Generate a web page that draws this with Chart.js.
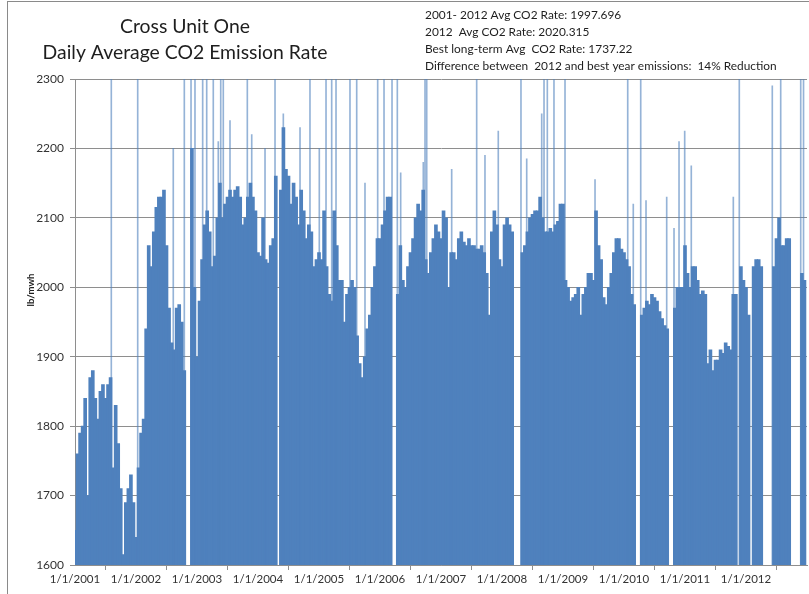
<!DOCTYPE html>
<html>
<head>
<meta charset="utf-8">
<script src="https://cdn.jsdelivr.net/npm/chart.js@4"></script>
<style>
  html, body { margin: 0; padding: 0; background: #ffffff; }
  #wrap { width: 809px; height: 594px; }
</style>
</head>
<body>
<div id="wrap"><canvas id="myChart" width="809" height="594"></canvas></div>
<script>
// half-month readings (1st and 16th of each month), lb/mwh; null = unit offline
const rate2001 = [1650, 1760, 1790, 1800, 1840, 1700, 1870, 1880, 1840, 1810, 1850, 1860, 1840, 1860, 1870, 1740, 1830, 1775, 1710, 1615, 1690, 1710, 1730, 1690];
const rate2002 = [1640, 1740, 1790, 1810, 1940, 2060, 2030, 2080, 2115, 2130, 2130, 2140, 2060, 1970, 1920, 1910, 1970, 1975, 1950, 1880, null, null, 2200, 2000];
const rate2003 = [1900, 1980, 2040, 2090, 2110, 2080, 2030, 2045, 2100, 2150, 2100, 2120, 2130, 2140, 2130, 2140, 2145, 2130, 2090, 2100, 2130, 2150, 2130, 2110];
const rate2004 = [2050, 2045, 2100, 2040, 2035, 2060, 2070, 2160, null, 2140, 2230, 2170, 2160, 2120, 2150, 2130, 2090, 2140, 2110, 2070, 2090, 2080, 2030, 2040];
const rate2005 = [2050, 2040, 2110, 2030, 1990, 1980, 2110, 2060, 2010, 2010, 1950, 1990, 2000, 2010, 2000, 1930, 1890, 1870, 1900, 1940, 1960, 2000, 2030, 2070];
const rate2006 = [2070, 2090, 2110, 2130, 2130, null, null, 1990, 2060, 2010, 2000, 2030, 2050, 2070, 2100, 2120, 2110, 2140, 2040, 2020, 2050, 2070, 2090, 2080];
const rate2007 = [2070, 2110, 2100, 2000, 2050, 2050, 2040, 2070, 2080, 2065, 2060, 2070, 2060, 2060, 2055, 2055, 2060, 2050, 2020, 1960, 2080, 2110, 2090, 2040];
const rate2008 = [2030, 2090, 2100, 2090, 2080, null, null, null, 2050, 2060, 2080, 2100, 2105, 2110, 2110, 2130, 2100, 2080, 2080, 2085, 2080, 2090, 2095, 2120];
const rate2009 = [2120, 2010, 2000, 1980, 1985, 1990, 2000, 1960, 1990, 2000, 2020, 2020, 2010, 2110, 2060, 2040, 1985, 1975, 2000, 2020, 2050, 2070, 2070, 2055];
const rate2010 = [2050, 2040, 2030, 1990, 1975, null, null, 1960, 1970, 1980, 1975, 1990, 1985, 1980, 1965, 1955, 1945, 1940, null, null, 1970, 2000, 2000, 2000];
const rate2011 = [2060, 2020, 2000, 2030, 2030, 2010, 1990, 1995, 1990, 1890, 1910, 1880, 1895, 1895, 1910, 1905, 1920, 1915, 1910, 1990, 1990, null, 2030, 2010];
const rate2012 = [2000, 1960, null, 2030, 2040, 2040, 2030, null, null, null, null, 2030, 2070, 2100, 2060, 2060, 2070, 2070, null, null, null, null, 2020, 2010];

const yearlyRates = [rate2001, rate2002, rate2003, rate2004, rate2005, rate2006,
                     rate2007, rate2008, rate2009, rate2010, rate2011, rate2012];

// single days that shot up (date as decimal year)
const spikeDates = [2001.595, 2002.028, 2002.611, 2002.792, 2002.902, 2002.967, 2003.093, 2003.159,
  2003.267, 2003.349, 2003.389, 2003.431, 2003.541, 2003.825, 2003.897, 2004.115, 2004.279, 2004.415,
  2004.689, 2004.852, 2005.005, 2005.115, 2005.208, 2005.279, 2005.508, 2005.618, 2005.754, 2005.962,
  2006.066, 2006.197, 2006.284, 2006.339, 2006.710, 2006.738, 2006.766, 2007.175, 2007.585, 2007.721,
  2007.939, 2008.311, 2008.405, 2008.651, 2008.689, 2008.743, 2008.852, 2009.033, 2009.525, 2010.061,
  2010.152, 2010.274, 2010.361, 2010.700, 2010.820, 2010.902, 2010.995, 2011.103, 2011.792, 2011.890,
  2012.431, 2012.569, 2012.897, 2012.943];
const spikeValues = [2300, 2300, 2200, 2300, 2300, 2300, 2300, 2300,
  2300, 2210, 2300, 2300, 2240, 2300, 2220, 2200, 2300, 2250,
  2230, 2300, 2200, 2300, 2300, 2300, 2300, 2300, 2150, 2300,
  2300, 2300, 2300, 2165, 2180, 2300, 2300, 2170, 2300, 2190,
  2225, 2300, 2185, 2250, 2300, 2300, 2300, 2300, 2155, 2300,
  2120, 2300, 2125, 2130, 2085, 2210, 2225, 2175, 2130, 2300,
  2290, 2300, 2300, 2300];

const tickYears = [2001, 2002, 2003, 2004, 2005, 2006, 2007, 2008, 2009, 2010, 2011, 2012];
const tickLabels = ["1/1/2001", "1/1/2002", "1/1/2003", "1/1/2004", "1/1/2005", "1/1/2006",
                    "1/1/2007", "1/1/2008", "1/1/2009", "1/1/2010", "1/1/2011", "1/1/2012"];

const titleLines = ["Cross Unit One", "Daily Average CO2 Emission Rate"];
const noteLines = [
  "2001- 2012 Avg CO2 Rate: 1997.696",
  "2012  Avg CO2 Rate: 2020.315",
  "Best long-term Avg  CO2 Rate: 1737.22",
  "Difference between  2012 and best year emissions:  14% Reduction"
];
const yTitle = "lb/mwh";

const barBlue = "#4f81bd";
const gridGray = "#8e8e8e";
const fontFamily = "Lato, 'Open Sans', sans-serif";

const dailyPoints = [];
yearlyRates.forEach((rates, k) => {
  rates.forEach((v, i) => {
    if (v !== null) dailyPoints.push({ x: tickYears[k] + i / 24, y: v });
  });
});
const spikePoints = spikeDates.map((d, i) => ({ x: d, y: spikeValues[i] }));

// font size that gives a text a wanted width
const measureCtx = document.createElement("canvas").getContext("2d");
function fitSize(text, width, weight) {
  measureCtx.font = (weight || "") + " 100px " + fontFamily;
  return 100 * width / measureCtx.measureText(text).width;
}

const textPlugin = {
  id: "textPlugin",
  beforeDraw(chart) {
    const ctx = chart.ctx;
    ctx.save();
    ctx.strokeStyle = "#8a8a8a";
    ctx.lineWidth = 1;
    ctx.strokeRect(7.5, 1.5, 900, 700);
    ctx.restore();
  },
  afterDraw(chart) {
    const ctx = chart.ctx;
    ctx.save();
    ctx.fillStyle = "#1e1e1e";
    ctx.textBaseline = "alphabetic";

    ctx.textAlign = "center";
    ctx.font = fitSize(titleLines[1], 285) + "px " + fontFamily;
    ctx.fillText(titleLines[0], 185, 33);
    ctx.fillText(titleLines[1], 185, 59);

    ctx.textAlign = "left";
    ctx.font = fitSize(noteLines[3], 352) + "px " + fontFamily;
    noteLines.forEach((t, i) => ctx.fillText(t, 425, 19 + i * 17));

    ctx.translate(34, 290);
    ctx.rotate(-Math.PI / 2);
    ctx.textAlign = "center";
    ctx.font = "bold " + fitSize(yTitle, 33, "bold") + "px " + fontFamily;
    ctx.fillText(yTitle, 0, 0);
    ctx.restore();
  }
};

const graphics = document.getElementById("myChart");
const config = {
  type: "bar",
  data: {
    datasets: [
      {
        label: "Spikes",
        data: spikePoints,
        backgroundColor: "rgba(79, 129, 189, 0.6)",
        barThickness: 1,
        grouped: false,
        order: 0
      },
      {
        label: "CO2 rate",
        data: dailyPoints,
        backgroundColor: barBlue,
        barThickness: 3,
        grouped: false,
        order: 1
      }
    ]
  },
  options: {
    responsive: false,
    animation: false,
    layout: { padding: { top: 79, right: 2, left: 0, bottom: 0 } },
    plugins: {
      legend: { display: false },
      tooltip: { enabled: false },
      title: { display: false }
    },
    scales: {
      x: {
        type: "linear",
        min: 2001,
        max: 2013,
        offset: false,
        afterBuildTicks: (axis) => { axis.ticks = tickYears.map((v) => ({ value: v })); },
        afterFit: (axis) => { axis.height = 29; },
        grid: { drawOnChartArea: false, drawTicks: true, tickLength: 5, color: gridGray },
        border: { color: gridGray },
        ticks: {
          autoSkip: false,
          maxRotation: 0,
          padding: 2,
          color: "#333333",
          font: { family: fontFamily, size: 11.5 },
          callback: (value, index) => tickLabels[index]
        }
      },
      y: {
        min: 1600,
        max: 2300,
        afterFit: (axis) => { axis.width = 75; },
        grid: { color: gridGray, tickLength: 5 },
        border: { color: gridGray },
        ticks: {
          stepSize: 100,
          padding: 6,
          color: "#333333",
          font: { family: fontFamily, size: 12 },
          callback: (value) => String(value)
        }
      }
    }
  },
  plugins: [textPlugin]
};

const myGraph = new Chart(graphics, config);
</script>
</body>
</html>
